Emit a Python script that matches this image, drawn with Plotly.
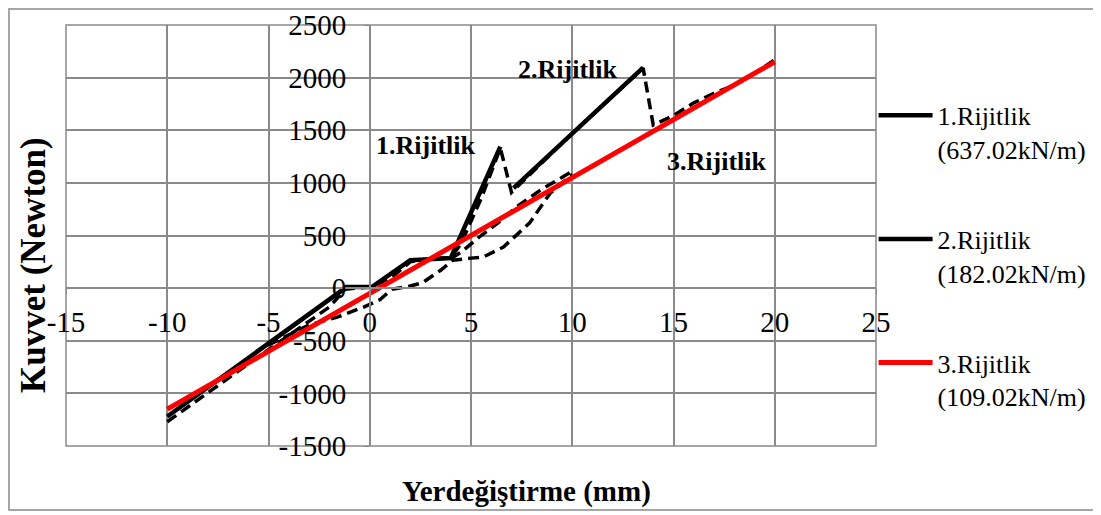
import plotly.graph_objects as go

# stiffness lines (Yerdeğiştirme mm, Kuvvet N)
rij1_x = [-10, -1.15, 0.1, 2.0, 4.0, 6.45]
rij1_y = [-1220, 10, 10, 265, 285, 1345]
rij2_x = [7.1, 13.5]
rij2_y = [950, 2095]
rij3_x = [-10, 20]
rij3_y = [-1150, 2150]

# test curves (dashed)
deney1_x = [-10, -8, -6, -4, -2, -1.2, 0, 1, 2, 3, 4, 4.5, 5.5, 6.45, 7.0, 10, 13.5, 14.0, 15, 16, 17, 18, 19, 20]
deney1_y = [-1270, -1000, -720, -450, -180, -10, 10, 90, 250, 280, 290, 420, 850, 1330, 910, 1470, 2090, 1550, 1640, 1760, 1850, 1930, 2040, 2170]
deney2_x = [-5, -3, -1.6, -0.3, 0.5, 1.1, 2.0, 2.6, 3.5, 4.1, 5.0, 5.6, 6.6, 7.9, 8.9, 10]
deney2_y = [-540, -350, -275, -180, -110, -10, 20, 50, 170, 265, 285, 295, 390, 620, 900, 1080]
deney3_x = [4.0, 4.5, 5.5, 6.3, 7.3, 8.5, 10]
deney3_y = [280, 340, 500, 615, 780, 940, 1110]

legend_names = ["1.Rijitlik<br>(637.02kN/m)", "2.Rijitlik<br>(182.02kN/m)", "3.Rijitlik<br>(109.02kN/m)"]
x_ticks = [-15, -10, -5, 0, 5, 10, 15, 20, 25]
y_ticks = [-1500, -1000, -500, 0, 500, 1000, 1500, 2000, 2500]

FONT = "Liberation Serif"
GRID = "#8a8a8a"

fig = go.Figure()
for dx, dy in [(deney2_x, deney2_y), (deney3_x, deney3_y), (deney1_x, deney1_y)]:
    fig.add_trace(go.Scatter(x=dx, y=dy, mode="lines", showlegend=False,
                             line=dict(color="black", width=3.5, dash="11px,6px")))

fig.add_trace(go.Scatter(x=rij1_x, y=rij1_y, mode="lines", name=legend_names[0],
                         legendgroup="g1", line=dict(color="black", width=4.5)))
fig.add_trace(go.Scatter(x=rij2_x, y=rij2_y, mode="lines", name=legend_names[1],
                         legendgroup="g2", line=dict(color="black", width=4.5)))
fig.add_trace(go.Scatter(x=rij3_x, y=rij3_y, mode="lines", name=legend_names[2],
                         legendgroup="g3", line=dict(color="#ff0000", width=5)))

# labels on the curves
fig.add_annotation(x=2.77, y=1352, text="<b>1.Rijitlik</b>", showarrow=False)
fig.add_annotation(x=9.75, y=2076, text="<b>2.Rijitlik</b>", showarrow=False)
fig.add_annotation(x=17.1, y=1200, text="<b>3.Rijitlik</b>", showarrow=False)

# axis titles
fig.add_annotation(xref="paper", yref="paper", x=-0.0395, y=0.43, xanchor="center", yanchor="middle",
                   textangle=-90, text="<b>Kuvvet (Newton)</b>", showarrow=False, font=dict(size=35))
fig.add_annotation(xref="paper", yref="paper", x=0.569, y=-0.109, xanchor="center", yanchor="middle",
                   text="<b>Yerdeğiştirme (mm)</b>", showarrow=False, font=dict(size=29))

# plot border and outer frame
fig.add_shape(type="rect", xref="paper", yref="paper", x0=0, x1=1, y0=0, y1=1,
              line=dict(color=GRID, width=1.5), layer="below")
fig.add_shape(type="rect", xref="paper", yref="paper", x0=-0.0704, x1=1.274, y0=-0.152, y1=1.038,
              line=dict(color=GRID, width=1.5))

fig.update_xaxes(range=[-15, 25], tickvals=x_ticks, ticktext=[str(v) for v in x_ticks],
                 showgrid=True, gridcolor=GRID, gridwidth=1.5, automargin=False,
                 zeroline=False, showline=True, linecolor=GRID, linewidth=1.5,
                 anchor="free", position=0.375, ticks="outside", ticklen=5, tickcolor=GRID,
                 ticklabelstandoff=3, tickfont=dict(size=29))
fig.update_yaxes(range=[-1500, 2500], tickvals=y_ticks, ticktext=[str(v) for v in y_ticks],
                 showgrid=True, gridcolor=GRID, gridwidth=1.5, automargin=False,
                 zeroline=False, showline=True, linecolor=GRID, linewidth=1.5,
                 anchor="free", position=0.375, ticks="outside", ticklen=5, tickcolor=GRID,
                 ticklabelstandoff=12, tickfont=dict(size=29))

fig.update_layout(
    width=1093, height=507,
    margin=dict(l=58, r=225, t=17, b=69, autoexpand=False),
    paper_bgcolor="white", plot_bgcolor="white",
    font=dict(family=FONT, size=26, color="black"),
    legend=dict(x=0.997, y=0.841, xanchor="left", yanchor="top", valign="top",
                traceorder="grouped", tracegroupgap=53, itemwidth=54,
                font=dict(size=26), bgcolor="rgba(0,0,0,0)"),
)

fig.write_html("out.html")
